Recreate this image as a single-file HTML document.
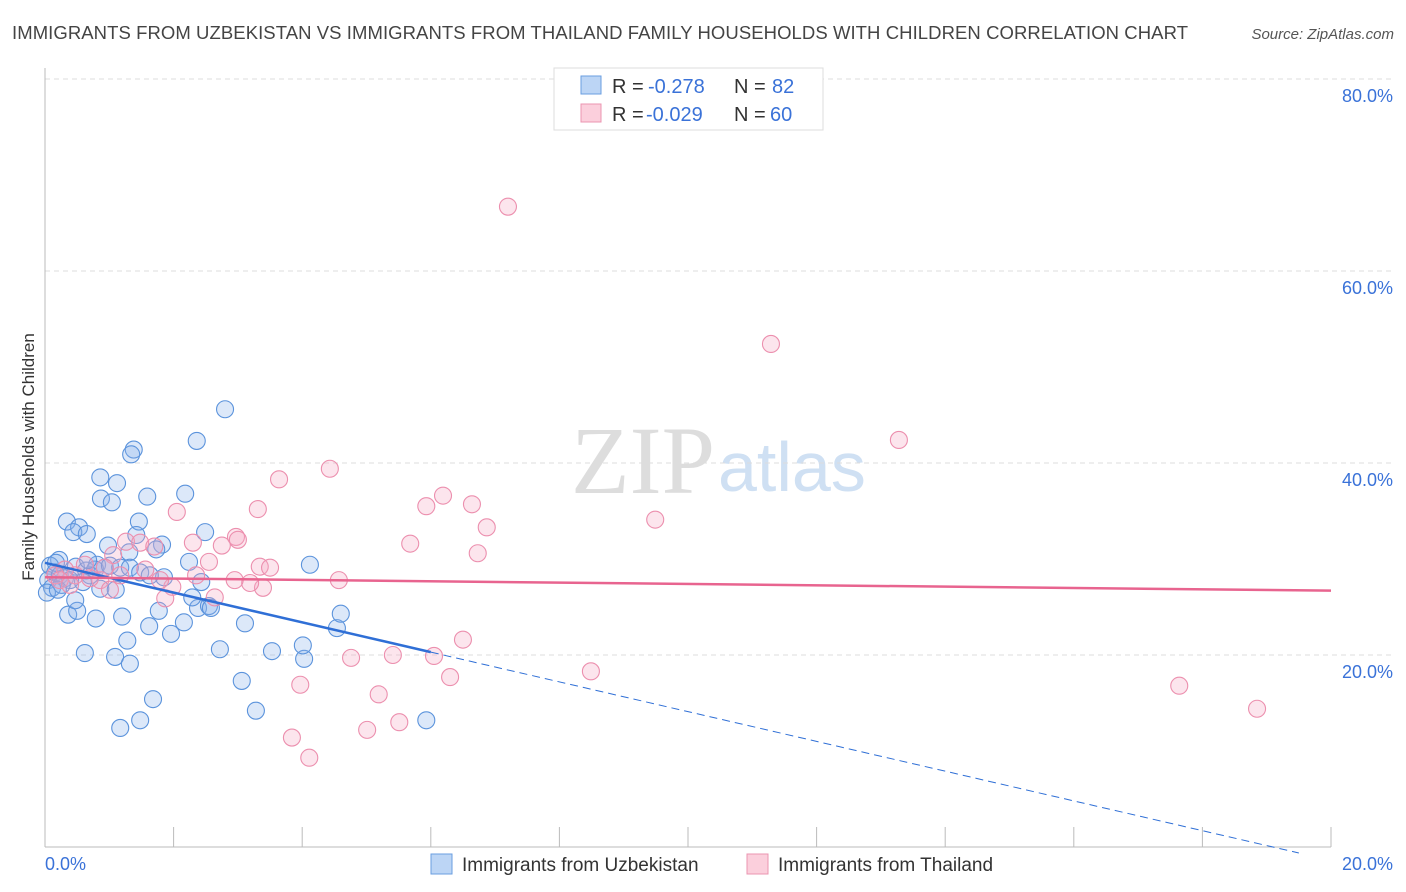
<!DOCTYPE html>
<html><head><meta charset="utf-8"><style>
body{margin:0;background:#fff;font-family:"Liberation Sans",sans-serif;}
svg{display:block}
</style></head><body>
<svg id="c" width="1406" height="892">
<text x="12" y="39" font-size="18.5" fill="#444" textLength="1176">IMMIGRANTS FROM UZBEKISTAN VS IMMIGRANTS FROM THAILAND FAMILY HOUSEHOLDS WITH CHILDREN CORRELATION CHART</text>
<text x="1394" y="39" font-size="15" fill="#555" font-style="italic" text-anchor="end">Source: ZipAtlas.com</text>
<text x="715" y="493" font-size="96" fill="#ddd" text-anchor="end" font-family="Liberation Serif,serif">ZIP</text>
<text x="718" y="491" font-size="70" fill="#cfe0f3">atlas</text>
<g id="grid"></g><g id="axes"></g><g id="pts"></g><g id="lines"></g>
<text transform="translate(34,457) rotate(-90)" font-size="17" fill="#333" text-anchor="middle">Family Households with Children</text>
<g>
<rect x="554" y="68" width="269" height="62" fill="#fff" stroke="#ddd"/>
<rect x="581" y="76" width="20" height="18" fill="#bcd5f5" stroke="#6a9ee0"/>
<rect x="581" y="104" width="20" height="18" fill="#fbcfdc" stroke="#eb94b0"/>
<text x="612" y="93" font-size="20" fill="#333">R =</text>
<text x="648" y="93" font-size="20" fill="#3a72d8">-0.278</text>
<text x="734" y="93" font-size="20" fill="#333">N =</text>
<text x="772" y="93" font-size="20" fill="#3a72d8">82</text>
<text x="612" y="121" font-size="20" fill="#333">R =</text>
<text x="646" y="121" font-size="20" fill="#3a72d8">-0.029</text>
<text x="734" y="121" font-size="20" fill="#333">N =</text>
<text x="770" y="121" font-size="20" fill="#3a72d8">60</text>
</g>
<g>
<rect x="431" y="854" width="21" height="20" fill="#bcd5f5" stroke="#6a9ee0"/>
<text x="462" y="871" font-size="19" fill="#333">Immigrants from Uzbekistan</text>
<rect x="747" y="854" width="21" height="20" fill="#fbcfdc" stroke="#eb94b0"/>
<text x="778" y="871" font-size="19" fill="#333">Immigrants from Thailand</text>
</g>
</svg>
<script>
const blueX=[],blueY=[],pinkX=[],pinkY=[];
const bluePx=[[225,409],[197,441],[134,450],[131,454],[100,477],[117,483],[101,499],[112,502],[147,497],[185,494],[67,522],[79,527],[139,522],[205,532],[136,535],[73,532],[87,534],[59,560],[76,567],[86,571],[129,552],[108,546],[97,565],[162,545],[156,549],[189,562],[164,577],[100,589],[116,590],[68,615],[77,611],[96,619],[122,617],[159,611],[198,608],[209,606],[211,608],[127,641],[115,657],[85,653],[130,664],[149,626],[171,634],[184,622],[220,649],[245,623],[272,651],[304,659],[303,645],[242,681],[256,711],[337,628],[341,614],[310,565],[153,699],[140,720],[120,728],[426,720],[192,597],[201,582],[50,566],[55,572],[48,580],[52,588],[47,593],[60,575],[65,578],[70,580],[90,575],[95,570],[105,568],[110,566],[56,563],[120,568],[130,568],[140,572],[150,575],[62,585],[58,590],[83,582],[75,600],[88,560]];
const pinkPx=[[508,207],[771,344],[899,440],[330,469],[279,479],[443,496],[472,504],[426,506],[258,509],[177,512],[487,527],[655,520],[236,537],[410,544],[238,540],[222,546],[193,543],[126,542],[140,543],[209,562],[478,553],[154,547],[260,567],[270,568],[339,580],[263,588],[250,583],[196,575],[172,587],[165,598],[215,597],[463,640],[351,658],[393,655],[434,656],[591,671],[450,677],[379,694],[300,685],[399,722],[367,730],[292,738],[309,758],[1179,686],[1257,709],[113,555],[120,575],[100,580],[90,578],[75,575],[65,570],[55,575],[85,565],[105,568],[145,570],[60,580],[160,580],[110,590],[235,580],[70,585]];
// data values (percent)
bluePx.forEach(p=>{blueX.push(+((p[0]-45)/64.3).toFixed(2));blueY.push(+((847-p[1])/9.6).toFixed(1));});
pinkPx.forEach(p=>{pinkX.push(+((p[0]-45)/64.3).toFixed(2));pinkY.push(+((847-p[1])/9.6).toFixed(1));});
const yTicks=[20,40,60,80];
const xTickLabels=["0.0%","20.0%"];
const blueTrend=[29.6,20.3]; // y at x=0 and x=6
const pinkTrend=[28.1,26.7]; // y at x=0 and x=20
const sx=v=>45+v*64.3, sy=v=>847-v*9.6;
const NS="http://www.w3.org/2000/svg";
function mk(t,a,parent){const e=document.createElementNS(NS,t);for(const k in a)e.setAttribute(k,a[k]);document.getElementById(parent).appendChild(e);return e;}
yTicks.forEach(v=>{
 const l=mk('line',{x1:45,x2:1394,y1:sy(v),y2:sy(v),stroke:'#ddd','stroke-dasharray':'5,4'},'grid');
 
 
 const t=mk('text',{x:1393,y:sy(v)+23,'font-size':18,fill:'#3a72d8','text-anchor':'end'},'grid');
 t.textContent=v.toFixed(1)+'%';
 
 
});
mk('line',{x1:45,x2:45,y1:68,y2:847,stroke:'#bbb'},'axes');
mk('line',{x1:45,x2:1331,y1:847,y2:847,stroke:'#bbb'},'axes');
for(let i=0;i<=10;i++){const x=sx(i*2);mk('line',{x1:x,x2:x,y1:827,y2:847,stroke:'#bbb'},'axes');}
[[0,'start',45],[1,'end',1393]].forEach(([i,a,x])=>{const t=mk('text',{x:x,y:870,'font-size':18,fill:'#3a72d8','text-anchor':a},'axes');t.textContent=xTickLabels[i];
 
 });
blueX.forEach((x,i)=>{const c=mk('circle',{cx:sx(x),cy:sy(blueY[i]),r:8.5,fill:'rgba(140,180,235,0.3)',stroke:'#5b93dc','stroke-width':1.1},'pts');
 
 });
pinkX.forEach((x,i)=>{const c=mk('circle',{cx:sx(x),cy:sy(pinkY[i]),r:8.5,fill:'rgba(245,170,195,0.3)',stroke:'#ec8fae','stroke-width':1.1},'pts');
 
 });
const bs=(blueTrend[1]-blueTrend[0])/6;
let l=mk('line',{x1:sx(0),y1:sy(blueTrend[0]),x2:sx(6),y2:sy(blueTrend[1]),stroke:'#2f6fd6','stroke-width':2.5},'lines');


l=mk('line',{x1:sx(6),y1:sy(blueTrend[1]),x2:sx(19.5),y2:sy(blueTrend[0]+bs*19.5),stroke:'#2f6fd6','stroke-width':1,'stroke-dasharray':'8,5'},'lines');


l=mk('line',{x1:sx(0),y1:sy(pinkTrend[0]),x2:sx(20),y2:sy(pinkTrend[1]),stroke:'#e8648f','stroke-width':2.5},'lines');


</script>
</body></html>
